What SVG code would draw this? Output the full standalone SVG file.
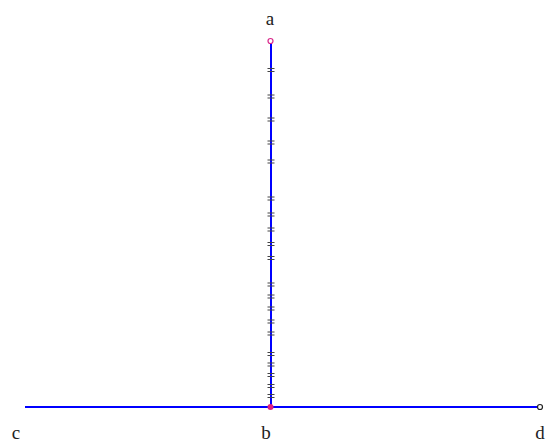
<svg xmlns="http://www.w3.org/2000/svg" width="548" height="443" viewBox="0 0 548 443">
<defs>
<style>
.lbl{font-family:"Liberation Serif","DejaVu Serif",serif;font-size:19px;fill:#222}
.seg{stroke:#0000ff;stroke-width:2;fill:none}
.tick{stroke:#444;stroke-width:1.1;fill:none}
</style>
<g id="tk"><path class="tick" d="M267.5 -1.5H274.5M267.5 1.5H274.5"/></g>
</defs>
<rect width="548" height="443" fill="#ffffff"/>
<g id="connectors">
<line class="seg" x1="25" y1="407" x2="540" y2="407"/>
<line class="seg" x1="271" y1="41" x2="271" y2="407"/>
<g id="ticks">
<use href="#tk" y="70"/><use href="#tk" y="96.5"/><use href="#tk" y="119.5"/><use href="#tk" y="142.5"/><use href="#tk" y="161.5"/>
<use href="#tk" y="198.5"/><use href="#tk" y="214.5"/><use href="#tk" y="229.5"/><use href="#tk" y="244"/><use href="#tk" y="258"/>
<use href="#tk" y="284.5"/><use href="#tk" y="296.5"/><use href="#tk" y="308.5"/><use href="#tk" y="321.5"/><use href="#tk" y="333.5"/>
<use href="#tk" y="354"/><use href="#tk" y="364.5"/><use href="#tk" y="375"/><use href="#tk" y="386"/><use href="#tk" y="396"/>
</g>
</g>
<g id="a"><circle cx="270.5" cy="41" r="2.5" fill="#fff" stroke="#d9278a" stroke-width="1.2"/><text class="lbl" x="270" y="25" text-anchor="middle">a</text></g>
<g id="b"><circle cx="270.5" cy="407" r="3" fill="#e0207f"/><text class="lbl" x="266" y="439" text-anchor="middle">b</text></g>
<g id="c"><text class="lbl" x="16" y="439" text-anchor="middle">c</text></g>
<g id="d"><circle cx="540" cy="407" r="2.5" fill="#fff" stroke="#222" stroke-width="1.2"/><text class="lbl" x="540" y="439" text-anchor="middle">d</text></g>
</svg>
